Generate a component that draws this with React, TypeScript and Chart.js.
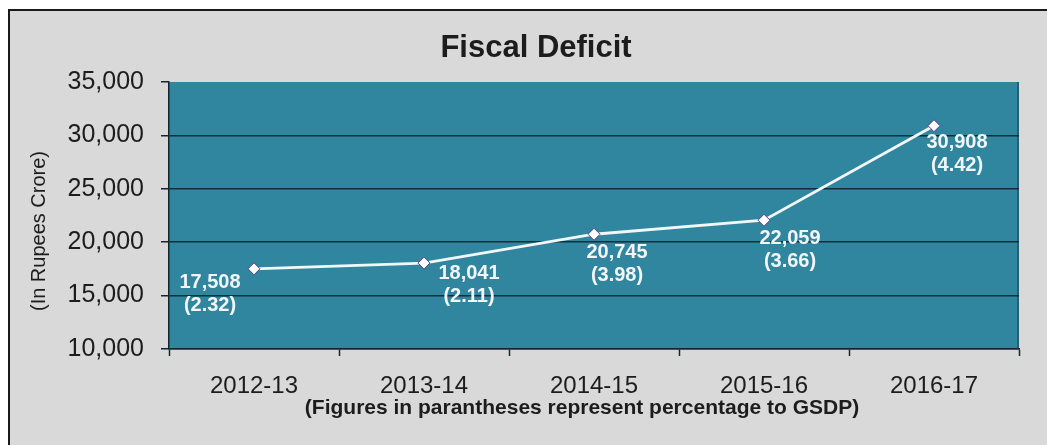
import React, { useEffect, useRef } from 'react';
import { Chart, registerables } from 'chart.js';

Chart.register(...registerables);

// Fiscal deficit by year, with its share of GSDP (%)
const years = ['2012-13', '2013-14', '2014-15', '2015-16', '2016-17'];
const deficit = [17508, 18041, 20745, 22059, 30908];
const gsdpShare = [2.32, 2.11, 3.98, 3.66, 4.42];

const yMin = 10000;
const yMax = 35000;
const yStep = 5000;

const chartTitle = 'Fiscal Deficit';
const yAxisTitle = '(In Rupees Crore)';
const xAxisNote = '(Figures in parantheses represent percentage to GSDP)';

// placement of each two-line value label relative to its marker, in px
const labelOffsets: [number, number][] = [
  [-44, 14],
  [45, 10],
  [23, 18],
  [26, 18],
  [23, 17],
];

const FONT = '"Liberation Sans", Arial, Helvetica, sans-serif';
const TEAL = '#31869f';
const PANEL = '#d9d9d9';
const DARK = '#13262e';
const GRID = '#132c36';
const TEXT = '#1c1c1c';

const CANVAS_W = 1037;
const CANVAS_H = 434;

const fmt = (v: number) => v.toLocaleString('en-US');

const plotBackground = {
  id: 'plotBackground',
  beforeDraw(chart: any) {
    const { ctx, chartArea: a } = chart;
    ctx.save();
    ctx.fillStyle = TEAL;
    ctx.fillRect(a.left, a.top, a.right - a.left, a.bottom - a.top);
    // faint shading along the right edge of the plot
    ctx.fillStyle = 'rgba(20,50,60,0.45)';
    ctx.fillRect(a.right - 2, a.top, 2, a.bottom - a.top);
    ctx.restore();
  },
};

const valueLabels = {
  id: 'valueLabels',
  afterDatasetsDraw(chart: any) {
    const { ctx } = chart;
    const meta = chart.getDatasetMeta(0);
    ctx.save();
    ctx.font = `bold 20px ${FONT}`;
    ctx.fillStyle = '#f3f6f8';
    ctx.textAlign = 'center';
    ctx.textBaseline = 'middle';
    meta.data.forEach((pt: any, i: number) => {
      const [dx, dy] = labelOffsets[i];
      ctx.fillText(fmt(deficit[i]), pt.x + dx, pt.y + dy);
      ctx.fillText(`(${gsdpShare[i].toFixed(2)})`, pt.x + dx, pt.y + dy + 23);
    });
    ctx.restore();
  },
};

const chartTexts = {
  id: 'chartTexts',
  afterDraw(chart: any) {
    const { ctx, chartArea: a } = chart;
    ctx.save();
    ctx.fillStyle = TEXT;
    ctx.textAlign = 'center';
    ctx.textBaseline = 'middle';

    ctx.font = `bold 31px ${FONT}`;
    ctx.fillText(chartTitle, 526, a.top - 34);

    ctx.font = `bold 21px ${FONT}`;
    ctx.fillText(xAxisNote, 572, a.bottom + 59);

    ctx.translate(29, 220);
    ctx.rotate(-Math.PI / 2);
    ctx.font = `20px ${FONT}`;
    ctx.fillText(yAxisTitle, 0, 0);
    ctx.restore();
  },
};

export default function App() {
  const canvasRef = useRef<HTMLCanvasElement | null>(null);

  useEffect(() => {
    const canvas = canvasRef.current;
    if (!canvas) return;

    const chart = new Chart(canvas, {
      type: 'line',
      data: {
        labels: years,
        datasets: [
          {
            label: 'Fiscal Deficit',
            data: deficit,
            borderColor: '#f2f7fa',
            borderWidth: 2.8,
            tension: 0,
            fill: false,
            pointStyle: 'rectRot',
            pointRadius: 6,
            pointBackgroundColor: '#ffffff',
            pointBorderColor: '#5b3d8c',
            pointBorderWidth: 1,
          },
        ],
      },
      options: {
        responsive: false,
        animation: false,
        devicePixelRatio: 1,
        layout: { padding: { top: 71, right: 28, bottom: 0, left: 0 } },
        plugins: {
          legend: { display: false },
          tooltip: { enabled: false },
          title: { display: false },
        },
        scales: {
          x: {
            type: 'category',
            offset: true,
            grid: {
              offset: true,
              drawOnChartArea: false,
              drawTicks: true,
              tickLength: 7,
              tickColor: DARK,
              tickWidth: 1.5,
            },
            border: { color: DARK, width: 1.5 },
            ticks: {
              color: TEXT,
              font: { family: FONT, size: 24 },
              padding: 16,
              maxRotation: 0,
            },
            afterFit: (s: any) => {
              s.height = 96;
            },
          },
          y: {
            min: yMin,
            max: yMax,
            ticks: {
              stepSize: yStep,
              color: TEXT,
              font: { family: FONT, size: 25 },
              padding: 17,
              callback: (v: any) => fmt(Number(v)),
            },
            grid: {
              color: (c: any) =>
                c.tick && c.tick.value === yMax ? 'rgba(0,0,0,0)' : GRID,
              lineWidth: 1.5,
              tickLength: 8,
              tickColor: DARK,
              tickWidth: 1.5,
            },
            border: { color: DARK, width: 1.5 },
            afterFit: (s: any) => {
              s.width = 159;
            },
          },
        },
      },
      plugins: [plotBackground, valueLabels, chartTexts],
    });

    return () => chart.destroy();
  }, []);

  return (
    <div
      style={{
        position: 'absolute',
        left: 8,
        top: 9,
        width: CANVAS_W,
        height: CANVAS_H,
        background: PANEL,
        borderLeft: '2px solid #1a1a1a',
        borderTop: '2px solid #1a1a1a',
        overflow: 'hidden',
      }}
    >
      <canvas
        ref={canvasRef}
        width={CANVAS_W}
        height={CANVAS_H}
        style={{ display: 'block' }}
      />
    </div>
  );
}
